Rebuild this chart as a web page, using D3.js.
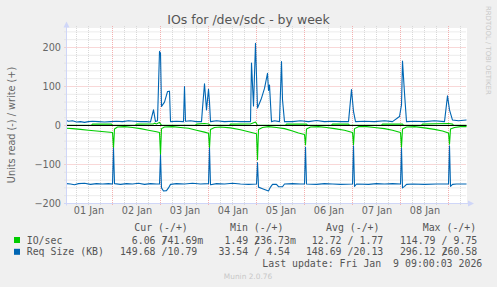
<!DOCTYPE html>
<html>
<head>
<meta charset="utf-8">
<script src="https://cdn.jsdelivr.net/npm/d3@7"></script>
<style>
  html, body { margin: 0; padding: 0; background: #f0f0f0; }
  svg { display: block; }
  text { font-family: "DejaVu Sans", sans-serif; fill: #666; }
  .mono { font-family: "DejaVu Sans Mono", monospace; white-space: pre; fill: #555; }
</style>
</head>
<body>
<div id="chart"></div>
<script>
// hours after 01 Jan 00:00, value (read values are stored positive, drawn below zero)
const ioRead = [
  [1,7],[4,8],[8,10],[12,12],[16,14],[20,16],[24,18],[24.5,58],[25,9],[26.5,4],[30,3],[34,5],
  [38,8],[42,12],[46,16],[47.5,18],[48,75],[48.5,8],[50,4],[54,3],[58,5],[62,7],[66,12],[70,17],
  [72,20],[72.5,58],[73,10],[75,5],[78,4],[83,6],[88,11],[92,16],[96,21],[96.5,88],[97,10],[99,5],
  [102,3],[106,5],[110,8],[114,14],[117,19],[120,23],[120.5,50],[121,9],[123,4],[127,3],[131,5],
  [135,8],[140,12],[144,18],[144.5,49],[145,8],[147,3],[151,3],[155,5],[160,8],[164,12],[168,18],
  [168.5,56],[169,9],[171,4],[175,3],[180,6],[185,10],[189,14],[192,19],[192.5,48],[193,9],[195,5],
  [198,3],[201,3]
];
const ioWrite = [
  [1,0.8],[13.5,0.8],[14,3.5],[23.5,3.5],[24,0.8],[35.5,0.8],[36,3.5],[44.5,4],[45,6],[46,4],
  [47.5,8],[48,4],[48.5,0.8],[65.5,0.8],[66,3.5],[70,5],[72,4],[73,0.8],[82.5,0.8],[83,3.5],
  [93,4],[95.5,9],[96.5,0.8],[110.5,0.8],[111,3.5],[121,3.5],[121.5,0.8],[133.5,0.8],[134,3.5],
  [142,3.5],[142.5,0.8],[158.5,0.8],[159,3.5],[169,3.5],[169.5,0.8],[178.5,0.8],[179,3.5],
  [192,5],[194,3.5],[194.5,0.8],[201,0.8]
];
const reqRead = [
  [1,149],[3,150],[5,152],[7,149],[10,148],[13,151],[16,149],[19,150],[22,149],[24,150],[24.5,58],
  [25,149],[28,151],[31,149],[34,150],[37,148],[40,151],[43,149],[46,150],[47.5,150],[48,75],
  [48.5,160],[49.5,168],[51,167],[52,160],[53,151],[56,149],[60,150],[64,148],[68,150],[72,149],
  [72.5,58],[73,152],[76,149],[80,150],[84,148],[88,150],[92,151],[96,150],[96.5,95],[97,158],
  [99,162],[101,166],[102,168],[103,158],[104,151],[106,151],[107,157],[109,157],[110,150],
  [114,149],[118,150],[120,150],[120.5,55],[121,150],[126,151],[130,149],[134,150],[138,151],
  [144,150],[144.5,52],[145,156],[146,150],[152,151],[156,149],[160,150],[164,149],[168,150],
  [168.5,58],[169,160],[170,156],[171,151],[174,150],[180,151],[186,150],[192,150],[192.5,52],
  [193,156],[194,151],[196,150],[201,150]
];
const reqWrite = [
  [1,13],[2,11],[4,12],[6,9],[8,10],[10,8],[12,10],[14,11],[17,10],[20,9],[23,10],[26,11],[29,10],
  [32,12],[35,11],[38,10],[41,10],[43,9],[44.5,40],[45.5,10],[46.5,12],[47.5,190],[48,185],
  [48.5,49],[50,60],[51.5,87],[52.5,88],[53,10],[56,11],[59.5,10],[60,100],[60.5,11],[63,12],
  [66,10],[68.5,10],[69,44],[70,107],[71,40],[72,93],[72.5,60],[73,10],[76,12],[80,10],[84,11],
  [88,10],[93,10],[93.5,160],[94.5,50],[95.5,211],[96.5,45],[98.5,70],[100,95],[101.5,134],
  [102,90],[102.5,104],[103.5,10],[105,12],[107.5,10],[108.5,164],[109,66],[110,10],[114,10],
  [118,12],[122,10],[126,13],[130,10],[134,11],[138,10],[142,10],[143.5,92],[144.5,36],[145.5,10],
  [150,11],[155,10],[160,12],[164,10],[167.5,23],[168.5,53],[169,165],[170,83],[171,10],[175,11],
  [180,10],[185,12],[190,10],[191.5,76],[192.5,40],[194,14],[197,12],[201,14]
];

const yTicks = [-200, -100, 0, 100, 200];
const dayLabels = ["01 Jan", "02 Jan", "03 Jan", "04 Jan", "05 Jan", "06 Jan", "07 Jan", "08 Jan"];
const legendNames = ["IO/sec", "Req Size (KB)"];
const legendColors = ["#00cc00", "#0066b3"];
const legendHeads = ["Cur (-/+)", "Min (-/+)", "Avg (-/+)", "Max (-/+)"];
const ioStats = [["6.06", "741.69m"], ["1.49", "236.73m"], ["12.72", "1.77"], ["114.79", "9.75"]];
const reqStats = [["149.68", "10.79"], ["33.54", "4.54"], ["148.69", "20.13"], ["296.12", "260.58"]];

const W = 497, H = 287;
const t0 = new Date(2026, 0, 1, 0, 0);
const toDate = h => new Date(+t0 + h * 3600e3);

const svg = d3.select("#chart").append("svg").attr("width", W).attr("height", H);
svg.append("rect").attr("width", W).attr("height", H).attr("fill", "#f0f0f0");

const x = d3.scaleTime()
  .domain([toDate(1), toDate(201)])
  .range([66.5, 466.5]);
const y = d3.scaleLinear().domain([-200, 250]).range([203.5, 28]);

// canvas
svg.append("rect").attr("x", 67).attr("y", 28).attr("width", 400).attr("height", 175.5).attr("fill", "#fff");

// grid
const grid = svg.append("g");
d3.range(-200, 251, 20).forEach(v => {
  const major = v % 100 === 0;
  grid.append("line")
    .attr("x1", 64.5).attr("x2", 466.5)
    .attr("y1", y(v)).attr("y2", y(v))
    .attr("stroke", major ? "#f3b0b0" : "#d8d8d8")
    .attr("stroke-dasharray", "1,1");
});
x.ticks(d3.timeHour.every(6)).forEach(d => {
  const major = d.getHours() === 0;
  grid.append("line")
    .attr("x1", x(d)).attr("x2", x(d))
    .attr("y1", 26).attr("y2", 205.5)
    .attr("stroke", major ? "#f3b0b0" : "#d8d8d8")
    .attr("stroke-dasharray", "1,1");
});

// series
const line = sign => d3.line()
  .x(d => x(toDate(d[0])))
  .y(d => y(sign * d[1]));

const series = [
  [ioRead, -1, legendColors[0]],
  [ioWrite, 1, legendColors[0]],
  [reqRead, -1, legendColors[1]],
  [reqWrite, 1, legendColors[1]]
];
series.forEach(([data, sign, color]) => {
  svg.append("path")
    .datum(data)
    .attr("fill", "none")
    .attr("stroke", color)
    .attr("stroke-width", 1.1)
    .attr("stroke-linejoin", "round")
    .attr("d", line(sign));
});

// zero rule
svg.append("line")
  .attr("x1", 66.5).attr("x2", 466.5)
  .attr("y1", y(0)).attr("y2", y(0))
  .attr("stroke", "#000");

// axes frame + arrows
svg.append("line").attr("x1", 66.5).attr("x2", 66.5).attr("y1", 26).attr("y2", 205.5).attr("stroke", "#cfd6f8");
svg.append("line").attr("x1", 64).attr("x2", 469).attr("y1", 203.5).attr("y2", 203.5).attr("stroke", "#cfd6f8");
svg.append("path").attr("d", "M63.5,27.5L69.5,27.5L66.5,21.5Z").attr("fill", "#cfd6f8");
svg.append("path").attr("d", "M468,200.5L468,206.5L474,203.5Z").attr("fill", "#cfd6f8");

// y axis labels
const yAxis = svg.append("g")
  .attr("transform", "translate(61,0)")
  .call(d3.axisLeft(y).tickValues(yTicks).tickSize(0).tickPadding(0));
yAxis.select(".domain").remove();
yAxis.selectAll("text")
  .attr("font-family", "DejaVu Sans")
  .attr("font-size", "9.7px")
  .attr("fill", "#666");

// x axis labels at noon
const xAxis = svg.append("g")
  .attr("transform", "translate(0,207)")
  .call(d3.axisBottom(x)
    .tickValues(dayLabels.map((d, i) => toDate(12 + 24 * i)))
    .tickFormat((d, i) => dayLabels[i])
    .tickSize(0).tickPadding(0));
xAxis.select(".domain").remove();
xAxis.selectAll("text")
  .attr("font-family", "DejaVu Sans")
  .attr("font-size", "9.7px")
  .attr("fill", "#666");

// title, unit label, watermarks
svg.append("text").attr("x", 248.5).attr("y", 24)
  .attr("text-anchor", "middle").attr("font-size", "12.5px").style("fill", "#555")
  .text("IOs for /dev/sdc - by week");
svg.append("text").attr("transform", "translate(14.5,125) rotate(-90)")
  .attr("text-anchor", "middle").attr("font-size", "9.7px")
  .text("Units read (-) / write (+)");
svg.append("text").attr("transform", "translate(485.5,6) rotate(90)")
  .attr("font-size", "6.9px").style("fill", "#c8c8c8")
  .text("RRDTOOL / TOBI OETIKER");
svg.append("text").attr("x", 248).attr("y", 279)
  .attr("text-anchor", "middle").attr("font-size", "7.4px").style("fill", "#c8c8c8")
  .text("Munin 2.0.76");

// legend
const cw = 5.97;
const numEnds = [197.3, 290, 383.3, 477.3];
const headX = [134.3, 230, 326, 422.7];
const lg = svg.append("g").attr("font-size", "9.9px");
legendHeads.forEach((h, i) => {
  lg.append("text").attr("class", "mono").attr("x", headX[i]).attr("y", 231).text(h);
});
[ioStats, reqStats].forEach((stats, r) => {
  const yy = 243.5 + r * 11.8;
  lg.append("rect").attr("x", 14).attr("y", yy - 6.5).attr("width", 6).attr("height", 6).attr("fill", legendColors[r]);
  lg.append("text").attr("class", "mono").attr("x", 26.7).attr("y", yy).text(legendNames[r]);
  stats.forEach(([rd, wr], i) => {
    const m = wr.match(/^([\d.]+)(\D*)$/);
    lg.append("text").attr("class", "mono").attr("x", numEnds[i] - 5 * cw).attr("y", yy)
      .attr("text-anchor", "end").text(rd + " /");
    lg.append("text").attr("class", "mono").attr("x", numEnds[i]).attr("y", yy)
      .attr("text-anchor", "end").text(m[1]);
    if (m[2]) lg.append("text").attr("class", "mono").attr("x", numEnds[i]).attr("y", yy).text(m[2]);
  });
});
lg.append("text").attr("class", "mono").attr("x", 482.3).attr("y", 267)
  .attr("text-anchor", "end").text("Last update: Fri Jan  9 09:00:03 2026");
</script>
</body>
</html>
